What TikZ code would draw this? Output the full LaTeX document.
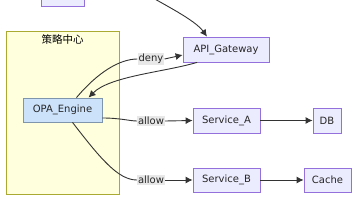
\documentclass[tikz,border=0pt]{standalone}
\usepackage{fontspec}
\setmainfont{DejaVu Sans}
\newfontfamily\cjk{Noto Sans CJK SC}
\usetikzlibrary{arrows.meta}
\definecolor{nodefill}{HTML}{ECECFF}
\definecolor{nodeline}{HTML}{9370DB}
\definecolor{clusterfill}{HTML}{FFFFDE}
\definecolor{clusterline}{HTML}{AAAA33}
\definecolor{opafill}{HTML}{CCE2FA}
\definecolor{opaline}{HTML}{7F95AD}
\definecolor{edgecol}{HTML}{333333}
\definecolor{lblfill}{HTML}{E8E8E8}
\tikzset{
	box/.style={draw=nodeline,fill=nodefill,line width=0.8pt,inner sep=0pt,font=\fontsize{10}{12}\selectfont,text=black!85},
	opabox/.style={box,draw=opaline,fill=opafill},
	edgelbl/.style={fill=lblfill,inner sep=1pt,font=\fontsize{10}{12}\selectfont,text=black!85},
	flow/.style={draw=edgecol,line width=0.9pt},
	arrow/.style={flow,-{Latex[length=7pt,width=7pt]}}
}
\begin{document}
\begin{tikzpicture}[x=1pt,y=-1pt]
	\useasboundingbox (0,0) rectangle (356,200);
	\clip (0,0) rectangle (356,200);
	% subgraph
	\draw[clusterline,fill=clusterfill,line width=0.8pt] (6,31) rectangle (119,194);
	\node (policy) at (62.5,39.5) {\cjk\fontsize{10.5}{12}\selectfont 策略中心};
	% nodes
	\node[box,minimum width=43pt,minimum height=26pt] (client) at (62.5,-7) {};
	\node[box,minimum width=86pt,minimum height=25pt] (api) at (226,49.5) {API\_Gateway};
	\node[opabox,minimum width=79pt,minimum height=24pt] (opa) at (62.5,110) {OPA\_Engine};
	\node[box,minimum width=67pt,minimum height=25pt] (svca) at (226.5,120.5) {Service\_A};
	\node[box,minimum width=28pt,minimum height=25pt] (db) at (327,120.5) {DB};
	\node[box,minimum width=67pt,minimum height=24pt] (svcb) at (226.5,180) {Service\_B};
	\node[box,minimum width=47pt,minimum height=24pt] (cache) at (327.5,180) {Cache};
	\coordinate (up) at (135,-12);
	% edge labels
	\node[edgelbl] (deny) at (151,59) {deny};
	\node[edgelbl] (allowa) at (151,121) {allow};
	\node[edgelbl] (allowb) at (151,180) {allow};
	% edges
	\draw[arrow] (up) .. controls (165,5) and (195,20) .. ([xshift=-19pt]api.north);
	\draw[flow] ([xshift=14pt]opa.north) .. controls (98,72) and (120,59) .. (deny.west);
	\draw[arrow] (deny.east) -- (api.west |- 0,55);
	\draw[arrow] ([xshift=-29pt]api.south) .. controls (165,72) and (110,76) .. ([xshift=26pt]opa.north);
	\draw[flow] ([yshift=-8pt]opa.east) .. controls (120,118) and (130,121) .. (allowa.west);
	\draw[arrow] (allowa.east) -- (svca.west);
	\draw[flow] ([xshift=10pt]opa.south) .. controls (100,158) and (118,180) .. (allowb.west);
	\draw[arrow] (allowb.east) -- (svcb.west);
	\draw[arrow] (svca) -- (db);
	\draw[arrow] (svcb) -- (cache);
\end{tikzpicture}
\end{document}
